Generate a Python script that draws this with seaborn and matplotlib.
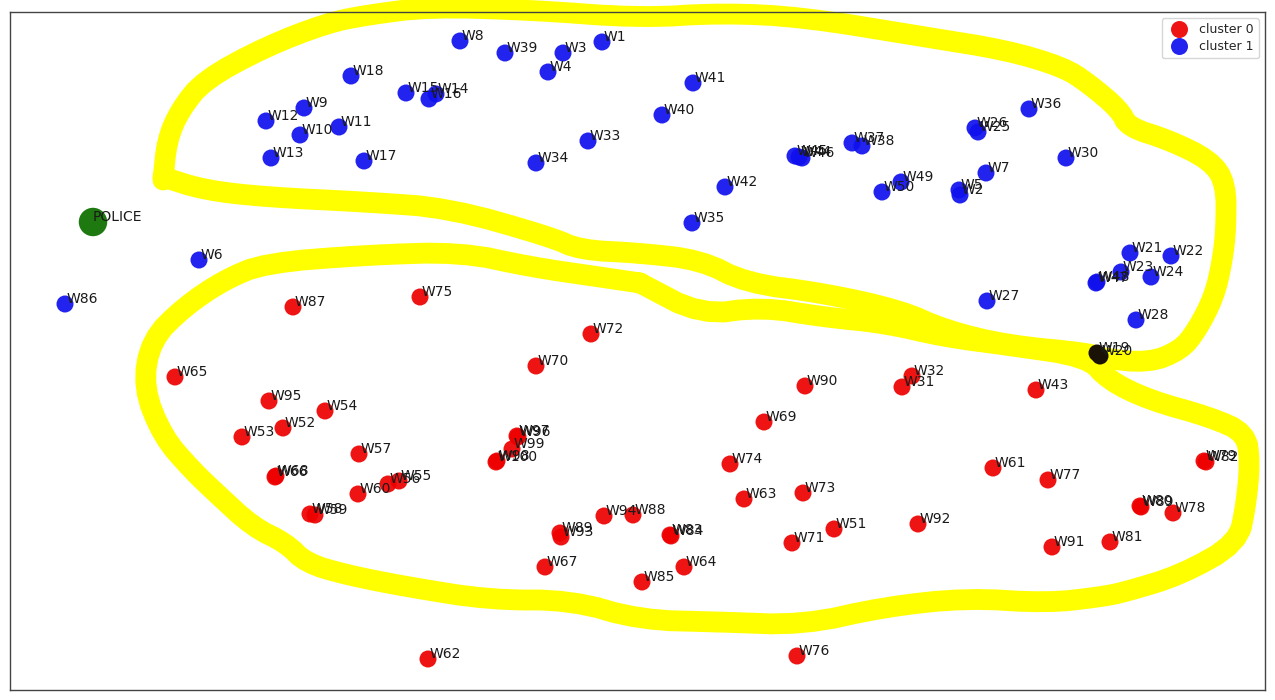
import matplotlib
matplotlib.use("Agg")
import matplotlib.pyplot as plt
import seaborn as sns
import pandas as pd

# ---- data ----
labels = ["W1","W3","W8","W39","W4","W18","W15","W16","W14","W9","W12","W10","W11","W13","W17",
          "W34","W33","W41","W40","W45","W46","W44","W37","W38","W26","W25","W36","W30","W7",
          "W49","W50","W5","W2","W42","W35","W6","W86","W21","W22","W23","W24","W47","W48",
          "W27","W28",
          "W87","W75","W72","W70","W65","W95","W54","W52","W53","W57","W97","W96","W99","W100",
          "W98","W32","W31","W90","W43","W69","W74","W61","W82","W79","W68","W66","W60","W56",
          "W55","W58","W59","W89","W93","W94","W88","W67","W62","W77","W63","W73","W83","W84",
          "W51","W71","W92","W91","W81","W80","W89","W78","W64","W85","W76"]
x_vals = [602,563,460,505,548,351,406,429,436,304,266,300,339,271,364,
          536,588,693,662,795,802,799,852,862,975,978,1029,1066,986,
          901,882,959,960,725,692,199,65,1130,1171,1121,1151,1096,1097,
          987,1136,
          293,420,591,536,175,269,325,283,242,359,517,518,512,496,
          497,912,902,805,1036,764,730,993,1206,1204,276,275,358,388,
          399,310,315,560,561,604,633,545,428,1048,744,803,670,671,
          834,792,918,1052,1110,1140,1141,1173,684,642,797]
y_px = [42,53,41,53,72,76,93,99,94,108,121,135,127,158,161,
        163,141,83,115,156,158,157,143,146,128,132,109,158,173,
        182,192,190,195,187,223,260,304,253,256,272,277,283,282,
        301,320,
        307,297,334,366,377,401,411,428,437,454,436,437,449,462,
        461,376,387,386,390,422,464,468,462,461,476,477,494,484,
        481,514,515,533,537,516,515,567,659,480,499,493,535,536,
        529,543,524,547,542,506,507,513,567,582,656]
y_vals = [700 - v for v in y_px]
n_blue = 45
cluster = ["cluster 1"] * n_blue + ["cluster 0"] * (len(labels) - n_blue)

police_x, police_y = [93], [700 - 222]
black_labels = ["W19", "W20"]
black_x = [1097, 1100]
black_y = [700 - 353, 700 - 356]

# hand-drawn outline strokes (pixel-like units)
upper_loop_x = [163,167,180,204,265,327,367,429,531,640,721,803,925,1006,1063,1088,1120,1128,1169,1210,1226,1226,1222,1214,1197,1181,1149,1100,1088,1006,945,900,823,746,701,640,580,551,449,367,265,204,163]
upper_loop_y = [180,140,110,80,47,23,15,7,10,18,13,17,37,50,67,83,110,127,140,160,183,230,263,297,330,350,363,358,353,345,330,310,293,283,260,253,250,237,208,202,197,190,177]
lower_loop_x = [640,701,762,823,884,945,1006,1088,1108,1149,1210,1246,1250,1246,1238,1181,1125,1100,1047,966,884,803,721,640,571,490,408,347,306,286,253,216,192,163,143,151,184,224,265,367,461,531,600,640]
lower_loop_y = [283,315,307,317,323,337,345,357,380,400,417,433,463,505,543,575,592,597,603,598,607,625,622,620,600,600,587,575,563,543,527,493,470,437,387,340,307,280,263,255,252,267,277,283]


def soften(xs, ys, rounds=2):
    # corner-cutting so the hand-drawn stroke looks less angular
    for _ in range(rounds):
        nx, ny = [xs[0]], [ys[0]]
        for i in range(len(xs) - 1):
            nx += [0.75 * xs[i] + 0.25 * xs[i + 1], 0.25 * xs[i] + 0.75 * xs[i + 1]]
            ny += [0.75 * ys[i] + 0.25 * ys[i + 1], 0.25 * ys[i] + 0.75 * ys[i + 1]]
        nx.append(xs[-1]); ny.append(ys[-1])
        xs, ys = nx, ny
    return xs, ys


# ---- plot ----
sns.set_theme(style="white")
fig = plt.figure(figsize=(12.75, 7), dpi=100)
ax = fig.add_axes([10/1275, 10/700, 1255/1275, 678/700])

for lx, ly in ((upper_loop_x, upper_loop_y), (lower_loop_x, lower_loop_y)):
    sx, sy = soften(lx, [700 - v for v in ly])
    ax.plot(sx, sy, color="#ffff00", lw=15, solid_capstyle="round",
            solid_joinstyle="round", zorder=1, clip_on=False)

df = pd.DataFrame({"x": x_vals, "y": y_vals, "cluster": cluster, "label": labels})
sns.scatterplot(data=df, x="x", y="y", hue="cluster", hue_order=["cluster 0", "cluster 1"],
                palette={"cluster 0": "#ee0000", "cluster 1": "#1010ee"}, s=150,
                edgecolor="none", alpha=0.92, ax=ax, zorder=3)
ax.scatter(police_x, police_y, s=420, color="#1e7a10", edgecolor="none", zorder=3)
ax.scatter(black_x, black_y, s=150, color="#1a1206", edgecolor="none", zorder=3)

for xx, yy, lab in zip(x_vals, y_vals, labels):
    ax.text(xx + 2, yy + 1, lab, fontsize=10, color="#1a1a1a", zorder=4)
ax.text(police_x[0], police_y[0] + 1, "POLICE", fontsize=10, color="#1a1a1a", zorder=4)
for xx, yy, lab in zip(black_x, black_y, black_labels):
    ax.text(xx + 2, yy + 1, lab, fontsize=10, color="#1a1a1a", zorder=4)

ax.set_xlim(10, 1265)
ax.set_ylim(10, 688)
ax.set_xticks([])
ax.set_yticks([])
ax.set_xlabel("")
ax.set_ylabel("")
for sp in ax.spines.values():
    sp.set_color("#444444")
    sp.set_linewidth(1.0)
    sp.set_zorder(5)

leg = ax.legend(loc="upper right", fontsize=9, frameon=True, markerscale=1.0,
                handletextpad=0.6, borderpad=0.4, labelspacing=0.3)
leg.set_title(None)
leg.set_zorder(6)

fig.savefig("out.png", dpi=100)
